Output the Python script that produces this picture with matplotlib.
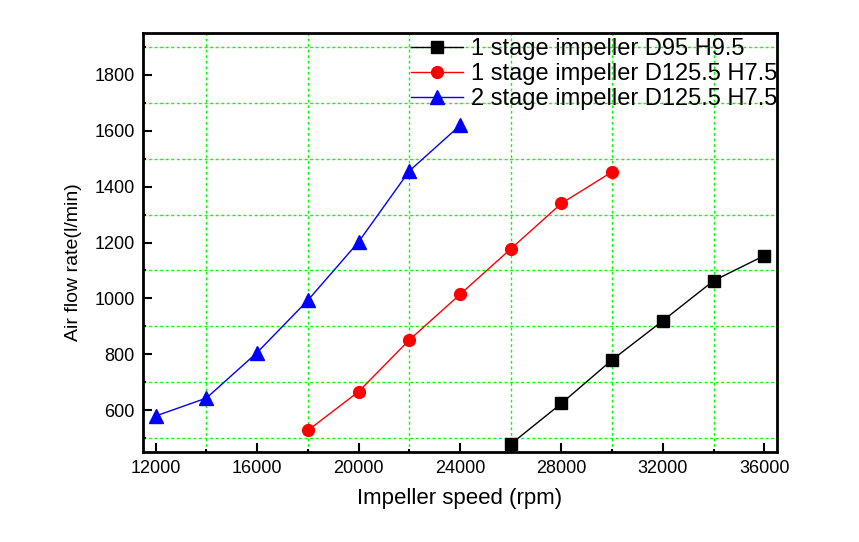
import matplotlib
matplotlib.use("Agg")
import matplotlib.pyplot as plt
from matplotlib.ticker import MultipleLocator

plt.rcParams["font.family"] = ["Liberation Sans", "DejaVu Sans"]

# impeller speed (rpm) and air flow rate (l/min) per configuration
speed_d95 = [26000, 28000, 30000, 32000, 34000, 36000]
flow_d95 = [478, 624, 780, 920, 1063, 1153]

speed_d125_1 = [18000, 20000, 22000, 24000, 26000, 28000, 30000]
flow_d125_1 = [527, 666, 851, 1014, 1177, 1340, 1453]

speed_d125_2 = [12000, 14000, 16000, 18000, 20000, 22000, 24000]
flow_d125_2 = [579, 643, 806, 993, 1202, 1456, 1619]

labels = ["1 stage impeller D95 H9.5",
          "1 stage impeller D125.5 H7.5",
          "2 stage impeller D125.5 H7.5"]

fig = plt.figure(figsize=(8.59, 5.42), dpi=100)
ax = fig.add_axes([143 / 859, 1 - 452 / 542, (777 - 143) / 859, (452 - 33) / 542])

ax.plot(speed_d95, flow_d95, color="black", lw=1, marker="s", ms=8,
        label=labels[0])
ax.plot(speed_d125_1, flow_d125_1, color="red", lw=1, marker="o", ms=8.5,
        label=labels[1])
ax.plot(speed_d125_2, flow_d125_2, color="blue", lw=1, marker="^", ms=9.5,
        label=labels[2])

ax.set_xlim(11500, 36500)
ax.set_ylim(450, 1950)
ax.xaxis.set_major_locator(MultipleLocator(4000))
ax.xaxis.set_minor_locator(MultipleLocator(2000))
ax.yaxis.set_major_locator(MultipleLocator(200))
ax.yaxis.set_minor_locator(MultipleLocator(100))

ax.grid(which="minor", color="#00ff00", ls=(0, (2, 2)), lw=1)
ax.set_axisbelow(True)

ax.tick_params(which="major", direction="in", length=6.5, width=1.5,
               labelsize=13, pad=6)
ax.tick_params(which="minor", direction="in", length=2.5, width=1.5)
for s in ax.spines.values():
    s.set_linewidth(2)

ax.set_xlabel("Impeller speed (rpm)", fontsize=16, labelpad=8)
ax.set_ylabel("Air flow rate(l/min)", fontsize=14)
ax.yaxis.set_label_coords(-0.097, 0.454)

ax.legend(loc="upper left", bbox_to_anchor=(411 / 859, 1 - 38 / 542),
          bbox_transform=fig.transFigure, frameon=False, fontsize=17,
          handlelength=2.2, handletextpad=0.35, labelspacing=0.13,
          borderpad=0, borderaxespad=0)

fig.savefig("out.png", dpi=100)
